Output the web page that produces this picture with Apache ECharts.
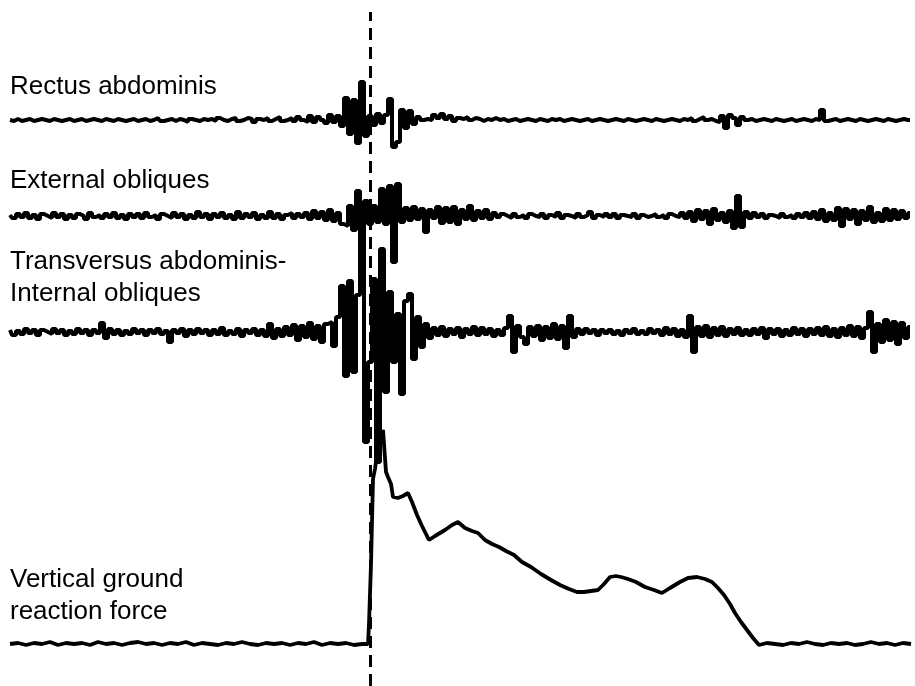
<!DOCTYPE html>
<html>
<head>
<meta charset="utf-8">
<script src="https://cdn.jsdelivr.net/npm/echarts@6/dist/echarts.min.js"></script>
<style>
  html, body { margin: 0; padding: 0; background: #fff; }
  #chart { width: 915px; height: 686px; }
</style>
</head>
<body>
<div id="chart"></div>
<script>
// EMG samples, one every STEP time units, amplitude upward positive
var STEP = 4;
var onsetTime = 360; // dashed line (foot contact)

var rectus = [
  0,-1,1,-1,0,1,-1,0,1,0,-1,1,0,-1,0,1,-1,0,1,-1,0,1,0,-1,1,
  0,-1,1,0,-1,0,1,-1,0,1,-1,0,2,-1,0,1,-1,1,0,-2,1,0,-1,1,0,
  1,-1,2,0,-1,1,2,-1,0,2,1,-2,1,0,2,-1,1,3,-1,0,2,-1,3,0,-2,
  4,-2,3,0,-3,5,-2,4,-6,22,-14,20,-23,38,-16,4,-5,6,-3,5,21,-27,-22,10,-8,
  9,-4,3,0,1,0,5,2,6,1,4,-1,2,1,3,0,2,1,-1,1,0,2,0,1,-1,
  0,1,-1,0,1,0,-1,1,0,-1,1,0,1,-1,0,1,0,-1,0,1,-1,0,1,0,-1,
  0,1,0,-1,1,0,-1,0,1,0,-1,1,0,-1,0,1,0,-1,1,0,2,-1,1,3,0,
  1,-1,-2,4,-8,5,2,-5,3,0,1,-1,0,1,0,-1,1,0,-1,0,1,-1,0,1,0,
  -1,1,0,10,-1,0,1,-1,0,1,0,-1,1,0,-1,0,1,0,-1,1,0,-1,0,1,0,
  0
];

var external = [
  1,-2,2,-1,3,-2,1,-3,2,0,-2,3,-1,2,-3,1,-2,2,0,-3,3,-1,1,-2,2,
  -1,3,-2,1,-3,2,-1,2,-2,3,-1,1,-3,2,0,-2,3,-1,2,-3,1,-2,4,-1,2,
  -3,2,-1,3,-2,1,-3,4,-2,2,-1,3,-3,1,-2,4,-2,2,-3,1,3,-2,2,-1,3,
  -3,5,-2,4,-4,6,-5,3,-8,-10,10,-14,25,-72,15,-8,10,-6,27,-8,30,-46,32,-6,8,
  -4,9,-3,7,-16,6,-2,9,-7,8,-6,9,-8,6,-3,10,-4,5,-2,6,-3,3,-1,2,0,
  -2,2,-1,1,-2,2,0,-1,2,-2,1,-1,3,-2,1,0,-2,2,-1,1,4,-2,1,-1,2,
  -1,2,-2,1,0,-1,2,-2,1,-1,0,2,-1,1,-2,2,0,-1,3,-2,4,-5,6,-3,5,
  -8,7,-4,3,-6,5,-12,20,-11,4,-2,3,-1,2,-2,1,0,-2,2,-1,1,-2,2,-1,3,
  -2,4,-3,6,-5,3,-4,8,-10,7,-3,6,-8,5,-4,9,-6,3,-5,7,-4,6,-3,5,-2,
  3
];

var transversus = [
  2,-3,1,-2,3,-1,2,-3,2,0,-2,3,-1,2,-3,1,-2,3,-1,2,-3,2,-1,9,-6,
  3,-2,2,-3,1,-2,3,-1,2,-3,2,-1,3,-2,1,-10,2,-1,3,-4,2,-2,3,-1,2,
  -3,2,-2,4,-3,1,-2,3,-4,2,-1,3,-3,2,-4,8,-6,3,-4,5,-3,7,-8,6,-5,
  9,-7,6,-10,8,10,-14,15,46,-44,51,-40,37,90,-110,-30,53,-130,83,-60,40,-30,18,-62,31,
  38,-27,15,-15,8,-6,4,-3,5,-4,3,-2,4,-5,3,-2,5,-3,4,-2,3,-4,2,-3,4,
  16,-20,6,-5,-12,5,-4,6,-8,5,-6,8,-7,6,-16,16,-5,3,-2,3,-1,2,-3,2,-1,
  2,-2,1,-3,2,-1,3,-2,1,-2,3,-1,2,-3,4,-2,3,-4,2,-5,16,-20,5,-4,6,
  -5,4,-3,5,-4,3,-2,4,-3,2,-3,3,-2,4,-6,3,-2,3,-4,2,-3,4,-2,3,-4,
  3,-2,4,-3,5,-4,3,-5,4,-3,6,-4,5,-6,4,20,-20,8,-10,12,-8,10,-12,9,-6,
  5
];

// vertical ground reaction force (irregular time stamps)
var grfTime = [
  0,8,16,24,32,40,48,56,64,72,80,88,96,104,112,120,128,136,144,152,160,168,176,184,192,
  200,208,216,224,232,240,248,256,264,272,280,288,296,304,312,320,328,336,344,352,
  358,359,361,363,365,367,370,373,375,376,378,381,383,388,393,398,402,407,412,419,
  425,435,442,448,455,462,468,475,482,489,496,504,512,521,531,541,550,559,567,574,
  581,588,594,600,606,611,618,626,635,644,652,660,670,678,687,695,702,708,714,720,
  725,731,737,743,749,
  757,765,773,781,789,797,805,813,821,829,837,845,853,861,869,877,885,893,901
];
var grfForce = [
  0,1,-1,1,0,2,-1,1,0,1,-1,2,0,1,-1,1,2,0,1,-1,1,0,2,-1,1,
  0,-1,1,0,2,0,-1,1,0,1,-1,1,0,2,-1,1,0,1,-1,0,
  0,20,80,165,175,190,205,214,214,172,167,160,147,146,148,151,142,129,118,104,
  108,114,119,122,116,113,111,104,100,97,93,89,82,77,70,64,59,55,52,52,
  53,54,60,67,68,67,65,62,57,54,51,56,62,66,67,65,62,56,49,40,
  31,22,14,6,-1,
  1,0,-1,1,0,2,0,-1,1,0,1,-1,0,2,0,1,-1,1,0
];

var labels = [
  { text: "Rectus abdominis", y: 87 },
  { text: "External obliques", y: 181 },
  { text: "Transversus abdominis-", y: 262 },
  { text: "Internal obliques", y: 294 },
  { text: "Vertical ground", y: 580 },
  { text: "reaction force", y: 612 }
];

function toPairs(values) {
  return values.map(function (v, i) { return [i * STEP, v]; });
}

var chart = echarts.init(document.getElementById("chart"));

var lineColor = "#000";
var grids = [
  { left: 10, right: 2, top: 70, height: 100 },
  { left: 10, right: 2, top: 136, height: 160 },
  { left: 10, right: 2, top: 192, height: 280 },
  { left: 10, right: 2, top: 344, height: 310 },
  { left: 10, right: 2, top: 12, bottom: 0 }
];
var yRanges = [[-50, 50], [-80, 80], [-140, 140], [-10, 300], [0, 1]];

var xAxes = grids.map(function (g, i) {
  return { type: "value", gridIndex: i, min: 0, max: 903, show: false };
});
var yAxes = yRanges.map(function (r, i) {
  return { type: "value", gridIndex: i, min: r[0], max: r[1], show: false };
});

function emgSeries(values, idx) {
  return {
    type: "line",
    xAxisIndex: idx,
    yAxisIndex: idx,
    data: toPairs(values),
    step: "middle",
    symbol: "none",
    clip: false,
    lineStyle: { color: lineColor, width: 4 },
  };
}

chart.setOption({
  animation: false,
  backgroundColor: "#fff",
  grid: grids,
  xAxis: xAxes,
  yAxis: yAxes,
  graphic: labels.map(function (l) {
    return {
      type: "text",
      x: 10,
      y: l.y,
      style: {
        text: l.text,
        font: '26px "Liberation Sans", Arial, sans-serif',
        fill: "#000",
        verticalAlign: "middle",
      },
    };
  }),
  series: [
    emgSeries(rectus, 0),
    emgSeries(external, 1),
    emgSeries(transversus, 2),
    {
      type: "line",
      xAxisIndex: 3,
      yAxisIndex: 3,
      data: grfTime.map(function (t, i) { return [t, grfForce[i]]; }),
      symbol: "none",
      clip: false,
      lineStyle: { color: lineColor, width: 3.8 },
    },
    {
      // dashed onset marker
      type: "line",
      xAxisIndex: 4,
      yAxisIndex: 4,
      data: [],
      markLine: {
        silent: true,
        symbol: "none",
        label: { show: false },
        lineStyle: { color: lineColor, width: 3, type: [12, 7] },
        data: [{ xAxis: onsetTime }],
      },
    },
  ],
});
</script>
</body>
</html>
